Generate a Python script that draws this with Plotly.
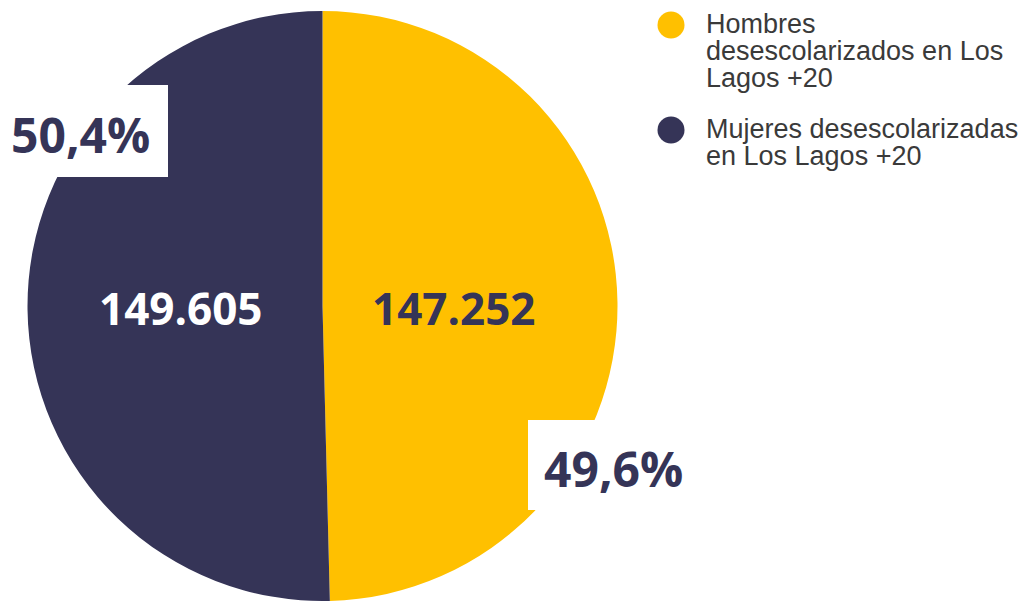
import plotly.graph_objects as go

# Población de 20 años o más sin escolarizar, región de Los Lagos
categorias = ["Hombres desescolarizados en Los Lagos +20",
              "Mujeres desescolarizadas en Los Lagos +20"]
leyenda_lineas = [["Hombres", "desescolarizados en Los", "Lagos +20"],
                  ["Mujeres desescolarizadas", "en Los Lagos +20"]]
valores = [147252, 149605]
colores = ["#FFC000", "#353457"]
colores_valor = ["#353457", "#FFFFFF"]

W, H = 1026, 601


def px(x):
    return x / W


def py(y):
    return 1 - y / H


def miles(v):
    return f"{v:,}".replace(",", ".")


def pct(v, total):
    return f"{100 * v / total:.1f}".replace(".", ",") + "%"


total = sum(valores)

fig = go.Figure()
fig.add_trace(go.Pie(
    labels=categorias,
    values=valores,
    marker=dict(colors=colores, line=dict(width=0)),
    sort=False,
    direction="clockwise",
    rotation=0,
    textinfo="none",
    hoverinfo="label+value+percent",
    showlegend=False,
    domain=dict(x=[px(27.5), px(617.5)], y=[0, py(11)]),
))

anotaciones = []
formas = []

# valores absolutos dentro de cada mitad
pos_valor = [(454, 308), (181, 308)]
for v, c, (x, y) in zip(valores, colores_valor, pos_valor):
    anotaciones.append(dict(
        x=px(x), y=py(y), xref="paper", yref="paper",
        text=f"<b>{miles(v)}</b>", showarrow=False,
        xanchor="center", yanchor="middle",
        font=dict(family="Open Sans", size=44, color=c),
    ))

# porcentajes en recuadros blancos
cajas = [(528, 420, 720, 510), (0, 85, 168, 177)]
pos_pct = [(613, 468), (80, 134)]
for v, (x0, y0, x1, y1), (x, y) in zip(valores, cajas, pos_pct):
    formas.append(dict(
        type="rect", xref="paper", yref="paper",
        x0=px(x0), x1=px(x1), y0=py(y1), y1=py(y0),
        fillcolor="white", line=dict(width=0), layer="above",
    ))
    anotaciones.append(dict(
        x=px(x), y=py(y), xref="paper", yref="paper",
        text=f"<b>{pct(v, total)}</b>", showarrow=False,
        xanchor="center", yanchor="middle",
        font=dict(family="Open Sans", size=48, color="#353457"),
    ))

# leyenda con marcadores circulares
centros_marcador = [25, 130]
for color, lineas, cy in zip(colores, leyenda_lineas, centros_marcador):
    formas.append(dict(
        type="circle", xref="paper", yref="paper",
        x0=px(657.5), x1=px(684.5), y0=py(cy + 13.5), y1=py(cy - 13.5),
        fillcolor=color, line=dict(width=0),
    ))
    for i, linea in enumerate(lineas):
        base = cy + 8 + 27 * i
        anotaciones.append(dict(
            x=px(704), y=py(base - 9), xref="paper", yref="paper",
            text=linea, showarrow=False,
            xanchor="left", yanchor="middle",
            font=dict(family="Liberation Sans, Arial", size=27, color="#3a3a3a"),
        ))

fig.update_layout(
    width=W, height=H,
    margin=dict(l=0, r=0, t=0, b=0),
    paper_bgcolor="white",
    plot_bgcolor="white",
    annotations=anotaciones,
    shapes=formas,
)

fig.write_html("out.html")
